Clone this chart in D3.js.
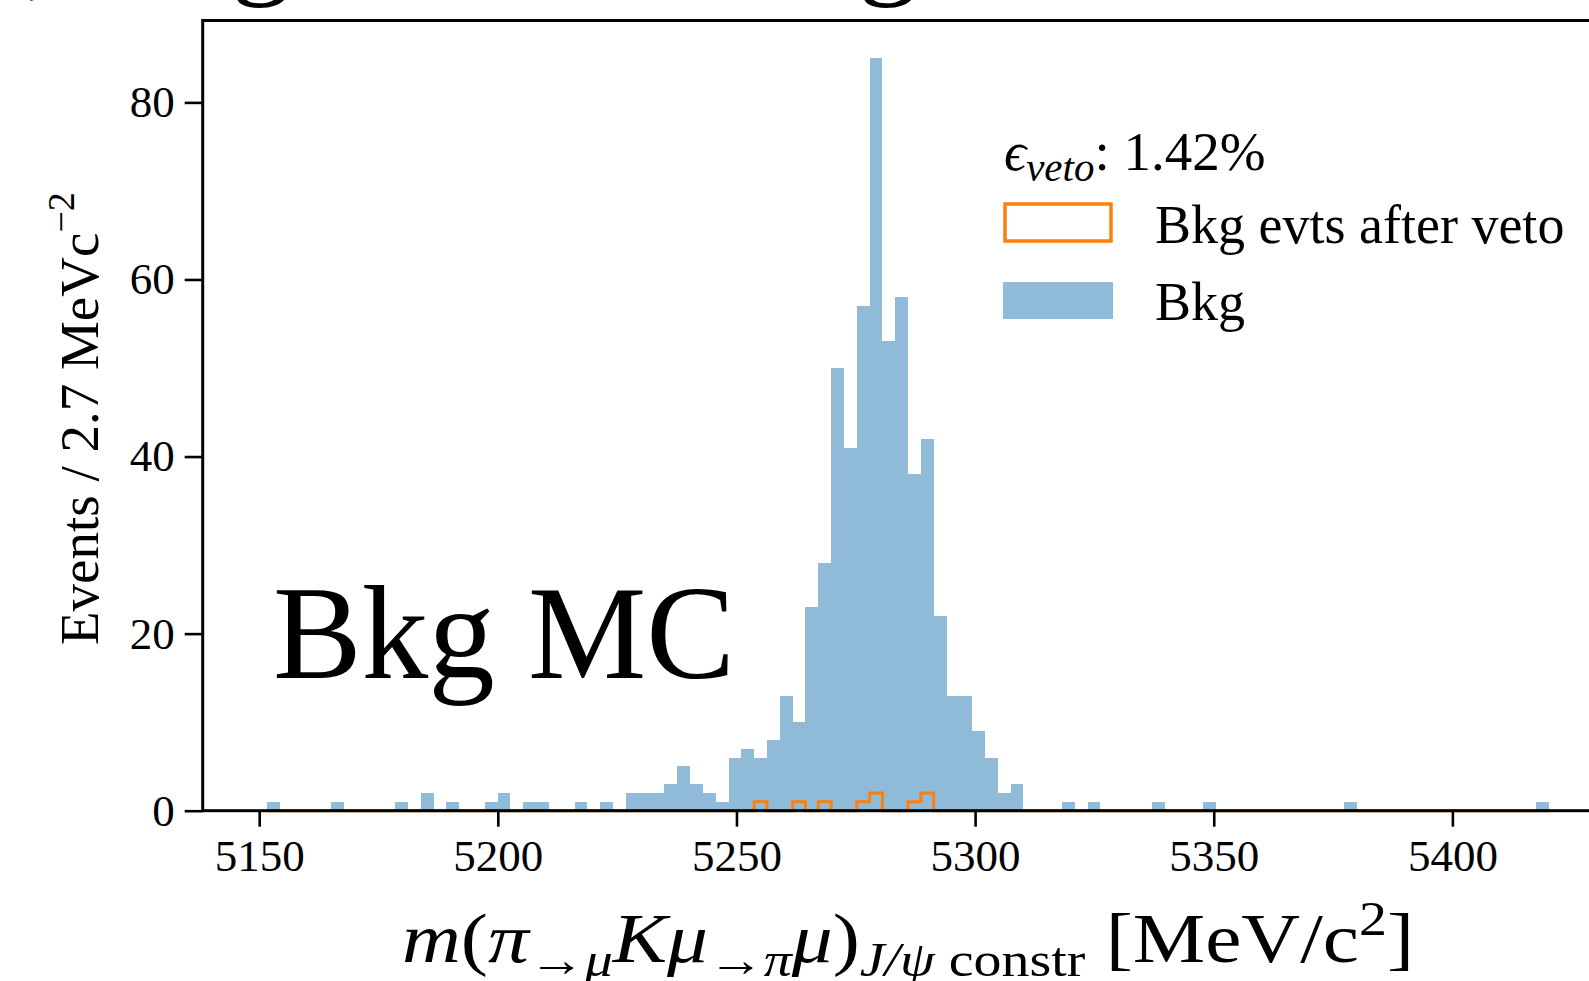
<!DOCTYPE html>
<html lang="en">
<head>
<meta charset="utf-8">
<title>Bkg MC veto</title>
<script type="text/javascript" src="https://d3js.org/d3.v7.min.js"></script>
<style type="text/css">
  body { margin: 0; background: white; }
  text { font-family: "Liberation Serif", "DejaVu Serif", serif; fill: black; }
  .it { font-style: italic; }
</style>
</head>
<body>
<script type="text/javascript">
// histogram: 100 bins of ~2.7 MeV starting at binLo
var binLo = 5151.6;
var binWidth = 2.687;

// Bkg (all events), bin by bin
var bkgCounts = [
   1, 0, 0, 0, 0, 1, 0, 0, 0, 0,
   1, 0, 2, 0, 1, 0, 0, 1, 2, 0,
   1, 1, 0, 0, 1, 0, 1, 0, 2, 2,
   2, 3, 5, 3, 2, 1, 6, 7, 6, 8,
  13,10,23,28,50,41,57,85,53,58,
  38,42,22,13,13, 9, 6, 2, 3, 0,
   0, 0, 1, 0, 1, 0, 0, 0, 0, 1,
   0, 0, 0, 1, 0, 0, 0, 0, 0, 0,
   0, 0, 0, 0, 1, 0, 0, 0, 0, 0,
   0, 0, 0, 0, 0, 0, 0, 0, 0, 1
];

// Bkg evts after veto
var vetoCounts = [
  0,0,0,0,0,0,0,0,0,0,
  0,0,0,0,0,0,0,0,0,0,
  0,0,0,0,0,0,0,0,0,0,
  0,0,0,0,0,0,0,0,1,0,
  0,1,0,1,0,0,1,2,0,0,
  1,2,0,0,0,0,0,0,0,0,
  0,0,0,0,0,0,0,0,0,0,
  0,0,0,0,0,0,0,0,0,0,
  0,0,0,0,0,0,0,0,0,0,
  0,0,0,0,0,0,0,0,0,0
];

var xTicks = [5150, 5200, 5250, 5300, 5350, 5400];
var yTicks = [0, 20, 40, 60, 80];
var legendLabels = ["Bkg evts after veto", "Bkg"];
var vetoEff = "1.42%";

var W = 1589, H = 981;
var margin = {top: 20.5, left: 202.7};
var plotW = 1410.7, plotH = 790.2;   // right part is cut by the page edge

var blue = "#1f77b4", orange = "#ff7f0e";

var nBins = bkgCounts.length;
var edges = d3.range(nBins + 1).map(function(i) { return binLo + i * binWidth; });
var bins = d3.range(nBins).map(function(i) {
  return {x0: edges[i], x1: edges[i + 1], n: bkgCounts[i], v: vetoCounts[i]};
});

// matplotlib-style 5% margins
var lo = edges[0], hi = edges[nBins], span = hi - lo;
var yMax = d3.max(bkgCounts) * 1.05;

var x = d3.scaleLinear().domain([lo - 0.05 * span, hi + 0.05 * span]).range([0, plotW]);
var y = d3.scaleLinear().domain([0, yMax]).range([plotH, 0]);

var svg = d3.select("body").append("svg")
  .attr("width", W).attr("height", H);

// cut-off title glyphs above the frame
svg.append("text").attr("x", 26).attr("y", -18).attr("font-size", 120).text(",");
svg.append("text").attr("x", 231).attr("y", -18).attr("font-size", 120).text("g");
svg.append("text").attr("x", 858).attr("y", -18).attr("font-size", 120).text("g");

var g = svg.append("g")
  .attr("transform", "translate(" + margin.left + "," + margin.top + ")");

// filled Bkg histogram
g.selectAll(".bar")
  .data(bins.filter(function(d) { return d.n > 0; }))
  .enter().append("rect")
  .attr("class", "bar")
  .attr("x", function(d) { return x(d.x0); })
  .attr("width", function(d) { return x(d.x1) - x(d.x0); })
  .attr("y", function(d) { return y(d.n); })
  .attr("height", function(d) { return y(0) - y(d.n); })
  .attr("fill", blue)
  .attr("fill-opacity", 0.5)
  .attr("shape-rendering", "crispEdges");

// step outline after veto
var pts = [[lo, 0]];
bins.forEach(function(d) { pts.push([d.x0, d.v]); });
pts.push([hi, vetoCounts[nBins - 1]]);
pts.push([hi, 0]);
g.append("path")
  .datum(pts)
  .attr("fill", "none")
  .attr("stroke", orange)
  .attr("stroke-width", 3)
  .attr("d", d3.line()
    .x(function(d) { return x(d[0]); })
    .y(function(d) { return y(d[1]); })
    .curve(d3.curveStepAfter));

// axes
var xAxis = g.append("g")
  .attr("transform", "translate(0," + plotH + ")")
  .call(d3.axisBottom(x).tickValues(xTicks).tickSize(16).tickPadding(12).tickFormat(d3.format("d")));
var yAxis = g.append("g")
  .call(d3.axisLeft(y).tickValues(yTicks).tickSize(18).tickPadding(10));

[xAxis, yAxis].forEach(function(a) {
  a.select(".domain").remove();
  a.selectAll(".tick line").attr("stroke", "black").attr("stroke-width", 2.6);
  a.selectAll(".tick text")
    .attr("font-family", "Liberation Serif")
    .attr("font-size", 45)
    .attr("fill", "black");
});

// frame
g.append("rect")
  .attr("x", 0).attr("y", 0)
  .attr("width", plotW).attr("height", plotH)
  .attr("fill", "none").attr("stroke", "black").attr("stroke-width", 3);

// y label
svg.append("text")
  .attr("transform", "translate(98," + (margin.top + plotH / 2 + 3) + ") rotate(-90)")
  .attr("text-anchor", "middle")
  .attr("font-size", 55)
  .html('Events / 2.7 MeVc<tspan dy="-24" font-size="38">\u22122</tspan>');

// x label (stretched to the width of the mathtext original)
var xl = svg.append("text")
  .attr("x", margin.left + plotW / 2)
  .attr("y", 962)
  .attr("text-anchor", "middle")
  .attr("font-size", 70)
  .attr("textLength", 1012)
  .attr("lengthAdjust", "spacingAndGlyphs");
xl.append("tspan").attr("class", "it").text("m");
xl.append("tspan").text("(");
xl.append("tspan").attr("class", "it").text("\u03c0");
xl.append("tspan").attr("dy", 14).attr("font-size", 48).text("\u2192");
xl.append("tspan").attr("class", "it").attr("font-size", 48).text("\u03bc");
xl.append("tspan").attr("dy", -14).attr("class", "it").text("K\u03bc");
xl.append("tspan").attr("dy", 14).attr("font-size", 48).text("\u2192");
xl.append("tspan").attr("class", "it").attr("font-size", 48).text("\u03c0");
xl.append("tspan").attr("dy", -14).attr("class", "it").text("\u03bc");
xl.append("tspan").text(")");
xl.append("tspan").attr("dy", 14).attr("class", "it").attr("font-size", 48).text("J/\u03c8");
xl.append("tspan").attr("font-size", 48).text(" constr");
xl.append("tspan").attr("dy", -14).text(" [MeV/c");
xl.append("tspan").attr("dy", -27).attr("font-size", 48).text("2");
xl.append("tspan").attr("dy", 27).text("]");

// big annotation
svg.append("text")
  .attr("x", 273).attr("y", 678)
  .attr("font-size", 133)
  .text("Bkg MC");

// legend
var lg = svg.append("g");
var eps = lg.append("text").attr("x", 1004).attr("y", 170).attr("font-size", 55);
eps.append("tspan").attr("class", "it").text("\u03f5");
eps.append("tspan").attr("class", "it").attr("dy", 11).attr("font-size", 41).text("veto");
eps.append("tspan").attr("dy", -11).text(": " + vetoEff);

lg.append("rect")
  .attr("x", 1005).attr("y", 204).attr("width", 106).attr("height", 37)
  .attr("fill", "none").attr("stroke", orange).attr("stroke-width", 3.5);
lg.append("rect")
  .attr("x", 1003).attr("y", 282).attr("width", 110).attr("height", 37)
  .attr("fill", blue).attr("fill-opacity", 0.5);

lg.selectAll(".lab")
  .data(legendLabels)
  .enter().append("text")
  .attr("class", "lab")
  .attr("x", 1155)
  .attr("y", function(d, i) { return 243 + i * 77; })
  .attr("font-size", 54)
  .text(function(d) { return d; });
</script>
</body>
</html>
